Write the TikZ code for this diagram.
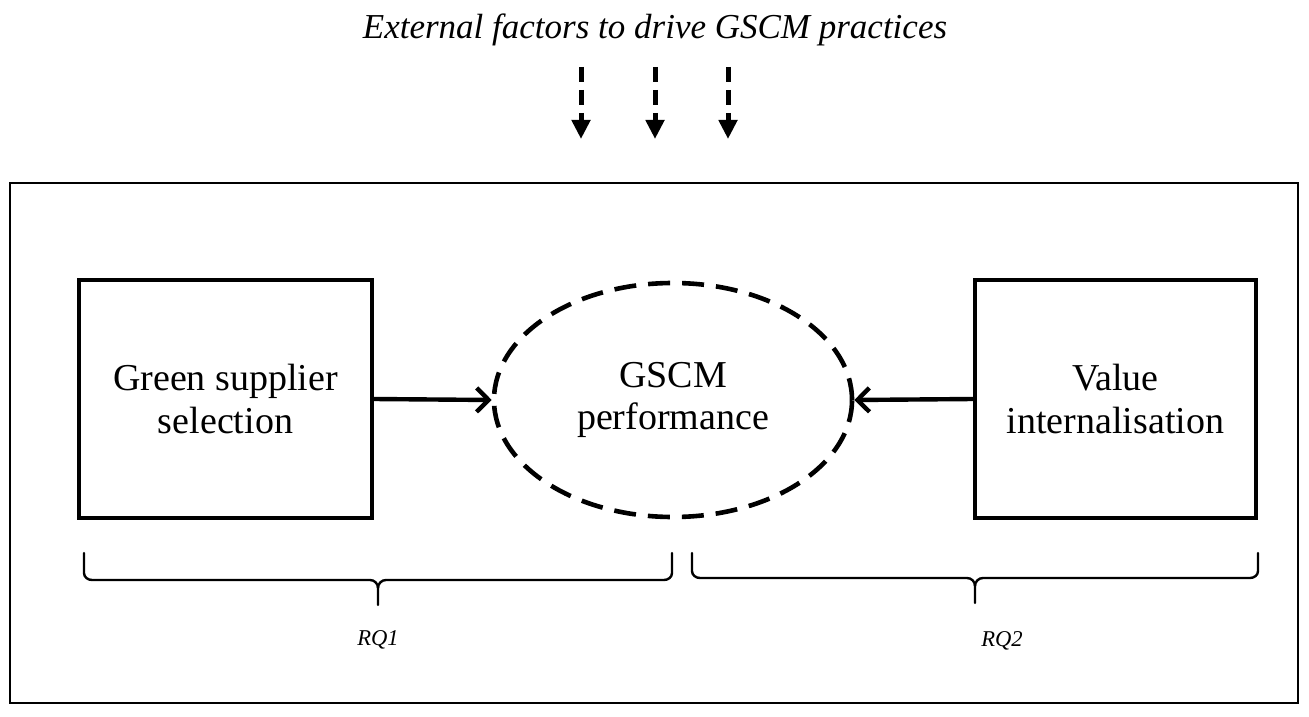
\documentclass[tikz,border=0pt]{standalone}
\usepackage{fontspec}
\setmainfont{Liberation Serif}
\usetikzlibrary{arrows.meta,shapes.geometric}
\begin{document}
\begin{tikzpicture}[x=0.5pt,y=-0.5pt,
  txt/.style={align=center,font=\fontsize{19}{21}\selectfont},
  box/.style={draw,line width=1.9pt,minimum height=119pt,inner sep=0pt,txt},
  ext/.style={line width=2.5pt,dash pattern=on 7.5pt off 4pt,-{Triangle[length=9.5pt,width=9pt]}},
  link/.style={line width=2.2pt,-{Straight Barb[length=6pt,width=12pt,line width=2.2pt]}},
  brc/.style={line width=1.2pt,line cap=round},
  rq/.style={font=\itshape\fontsize{11.3}{13}\selectfont}]
\useasboundingbox (0,0) rectangle (1309,716);
\node[font=\itshape\fontsize{17.5}{20}\selectfont] (title) at (655,30) {External factors to drive GSCM practices};
\node[draw,line width=1pt,minimum width=644pt,minimum height=260pt,inner sep=0pt] (frame) at (654,443) {};
\coordinate (a1s) at (581,67); \coordinate (a1e) at (581,139);
\coordinate (a2s) at (655,67); \coordinate (a2e) at (655,139);
\coordinate (a3s) at (728,67); \coordinate (a3e) at (728,139);
\draw[ext] (a1s) -- (a1e);
\draw[ext] (a2s) -- (a2e);
\draw[ext] (a3s) -- (a3e);
\node[box,minimum width=146.5pt] (gss) at (225.5,399) {Green supplier\\selection};
\node[box,minimum width=140.5pt] (vi) at (1115.5,399) {Value\\internalisation};
\node[draw,ellipse,line width=2.3pt,dash pattern=on 11pt off 6pt,minimum width=179pt,minimum height=117pt,inner sep=0pt,txt] (perf) at (673,400) {GSCM\\performance};
\draw[link] (gss.east) -- (perf.west);
\draw[link] (vi.west) -- (perf.east);
% braces
\draw[brc] (84,553) -- (84,573) to[out=-90,in=180] (92,580) -- (370,580) to[out=0,in=90] (378,588) -- (378,605);
\draw[brc] (672,553) -- (672,573) to[out=-90,in=0] (664,580) -- (386,580) to[out=180,in=90] (378,588);
\draw[brc] (692,553) -- (692,571) to[out=-90,in=180] (700,578) -- (967,578) to[out=0,in=90] (975,586) -- (975,603);
\draw[brc] (1258,553) -- (1258,571) to[out=-90,in=0] (1250,578) -- (983,578) to[out=180,in=90] (975,586);
\node[rq] (rq1) at (378,640) {RQ1};
\node[rq] (rq2) at (1002,641) {RQ2};
\end{tikzpicture}
\end{document}
